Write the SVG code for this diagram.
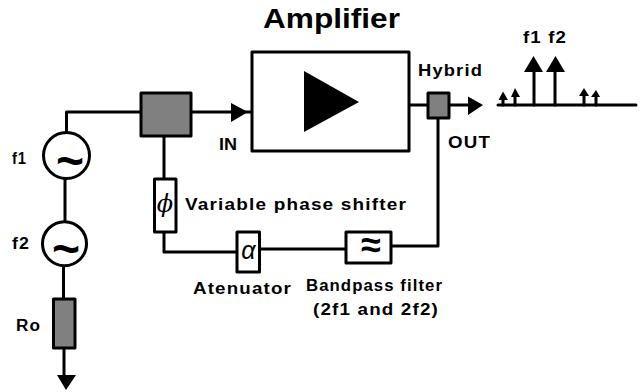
<svg xmlns="http://www.w3.org/2000/svg" width="643" height="392" viewBox="0 0 643 392">
<style>
text{font-family:"Liberation Sans",Arial,sans-serif;font-weight:bold;fill:#000}
.l{font-size:16px;letter-spacing:1px}
.w{fill:none;stroke:#000;stroke-width:3;stroke-linecap:round;stroke-linejoin:round}
.b{fill:#fff;stroke:#000;stroke-width:3;stroke-linejoin:round}
.g{fill:#808080;stroke:#000;stroke-width:3;stroke-linejoin:round}
.h{fill:#000}
.s{font-size:48px;text-anchor:middle}
.y{font-style:italic;font-weight:normal;text-anchor:middle}
</style>
<rect width="643" height="392" fill="#fff"/>
<g id="connectors">
<path class="w" d="M66.500 131V112H141"/>
<path class="w" d="M191 112H252"/>
<path class="h" d="M231 103L248 112L231 122Z"/>
<path class="w" d="M65 179V220"/>
<path class="w" d="M63.500 266V299"/>
<path class="w" d="M64 348V376"/>
<path class="h" d="M57 375H76L66 390Z"/>
<path class="w" d="M164 136V179"/>
<path class="w" d="M164 232V252H237"/>
<path class="w" d="M259.500 249H346"/>
<path class="w" d="M391 246H438V118"/>
<path class="w" d="M409 105H428"/>
<path class="w" d="M449 105H470"/>
<path class="h" d="M468 96.500L483 105L468 115Z"/>
</g>
<g id="title"><text x="263" y="28" font-size="28" textLength="137" lengthAdjust="spacingAndGlyphs">Amplifier</text></g>
<g id="amplifier"><rect class="b" x="252" y="52" width="157" height="99"/><path class="h" d="M304 71V132L359 102Z"/></g>
<g id="splitter"><rect class="g" x="141" y="93" width="50" height="43"/></g>
<g id="in-label"><text x="219" y="150" font-size="16" textLength="18" lengthAdjust="spacingAndGlyphs">IN</text></g>
<g id="source-f1"><circle class="b" cx="66.500" cy="155.500" r="23"/><text class="s" x="70" y="177">~</text><text class="l" x="12" y="164" textLength="15" lengthAdjust="spacingAndGlyphs">f1</text></g>
<g id="source-f2"><circle class="b" cx="64.500" cy="243.700" r="22"/><text class="s" x="66" y="265">~</text><text class="l" x="12" y="249" textLength="18" lengthAdjust="spacingAndGlyphs">f2</text></g>
<g id="resistor"><rect class="g" x="53.500" y="299" width="21.500" height="49"/><text class="l" x="16" y="331" textLength="25" lengthAdjust="spacingAndGlyphs">Ro</text></g>
<g id="phase-shifter"><rect class="b" x="154.500" y="179" width="21.500" height="53"/><text class="y" x="165" y="212" font-size="24" style="font-family:'DejaVu Serif',serif">ϕ</text><text class="l" x="185" y="210" textLength="222" lengthAdjust="spacingAndGlyphs">Variable phase shifter</text></g>
<g id="attenuator"><rect class="b" x="237" y="232" width="22.500" height="40"/><text class="y" x="248.500" y="259" font-size="25">α</text><text class="l" x="193" y="294" textLength="99" lengthAdjust="spacingAndGlyphs">Atenuator</text></g>
<g id="filter"><rect class="b" x="346" y="232" width="45" height="31"/><text x="371" y="257" text-anchor="middle" font-size="36">≈</text><text class="l" x="306" y="291" textLength="137" lengthAdjust="spacingAndGlyphs">Bandpass filter</text><text class="l" x="313" y="315" textLength="126" lengthAdjust="spacingAndGlyphs">(2f1 and 2f2)</text></g>
<g id="hybrid"><rect class="g" x="428" y="93" width="21" height="25"/><text class="l" x="418" y="76" textLength="65" lengthAdjust="spacingAndGlyphs">Hybrid</text><text class="l" x="448" y="148" textLength="43" lengthAdjust="spacingAndGlyphs">OUT</text></g>
<g id="spectrum">
<path class="w" d="M498 105H636"/>
<path class="w" d="M534 105V70M555 105V70M503 105V98M515 105V95M584 105V95M596 105V97"/>
<path class="h" d="M524 72H543L533.500 56ZM546 72H565L555.500 56ZM498.500 100H508L503 91.500ZM511 97H520L515 88ZM579 96H589L584 88ZM591 97H600L596 90Z"/>
<text class="l" x="523" y="43" textLength="44" lengthAdjust="spacingAndGlyphs">f1 f2</text>
</g>
</svg>
